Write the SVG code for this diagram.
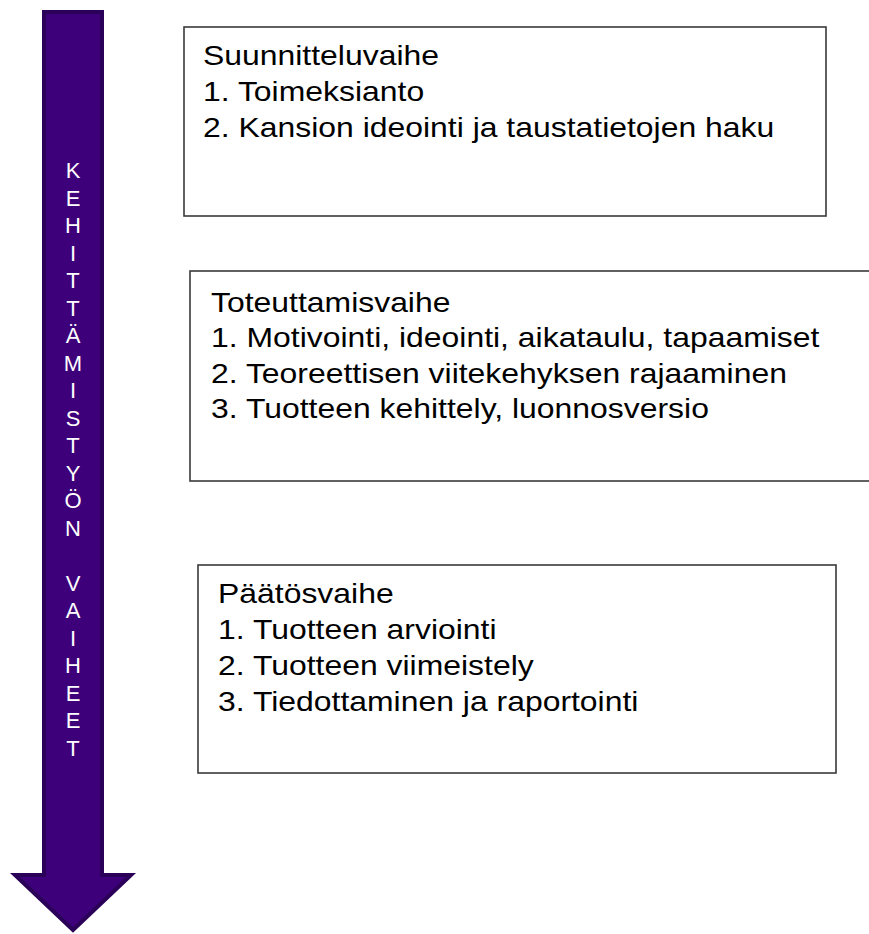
<svg xmlns="http://www.w3.org/2000/svg" width="869" height="934" viewBox="0 0 869 934">
<style>
.box{fill:#fff;stroke:#3a3a3a;stroke-width:1.6}
.t{font-family:"Liberation Sans",Arial,sans-serif;font-size:28.5px;fill:#000}
.v{font-family:"Liberation Sans",Arial,sans-serif;font-size:22px;fill:#fff;text-anchor:middle}
</style>
<rect width="869" height="934" fill="#fff"/>
<g id="arrow">
<polygon points="44,12 102,12 102,875 131,875 73,930 15,875 44,875" fill="#3D007A" stroke="#2B0058" stroke-width="4" stroke-linejoin="miter"/>
<text class="v">
<tspan x="73" y="178">K</tspan><tspan x="73" y="205.5">E</tspan><tspan x="73" y="233">H</tspan><tspan x="73" y="260.5">I</tspan><tspan x="73" y="288">T</tspan><tspan x="73" y="315.5">T</tspan><tspan x="73" y="343">Ä</tspan><tspan x="73" y="370.5">M</tspan><tspan x="73" y="398">I</tspan><tspan x="73" y="425.5">S</tspan><tspan x="73" y="453">T</tspan><tspan x="73" y="480.5">Y</tspan><tspan x="73" y="508">Ö</tspan><tspan x="73" y="535.5">N</tspan><tspan x="73" y="590.5">V</tspan><tspan x="73" y="618">A</tspan><tspan x="73" y="645.5">I</tspan><tspan x="73" y="673">H</tspan><tspan x="73" y="700.5">E</tspan><tspan x="73" y="728">E</tspan><tspan x="73" y="755.5">T</tspan>
</text>
</g>
<g id="suunnitteluvaihe">
<rect class="box" x="184" y="27" width="642" height="189"/>
<text class="t" transform="translate(203 0) scale(1.12 1)"><tspan x="0" y="65">Suunnitteluvaihe</tspan><tspan x="0" y="101">1. Toimeksianto</tspan><tspan x="0" y="137">2. Kansion ideointi ja taustatietojen haku</tspan></text>
</g>
<g id="toteuttamisvaihe">
<rect class="box" x="190" y="271" width="690" height="210"/>
<text class="t" transform="translate(211 0) scale(1.12 1)"><tspan x="0" y="312">Toteuttamisvaihe</tspan><tspan x="0" y="347.5">1. Motivointi, ideointi, aikataulu, tapaamiset</tspan><tspan x="0" y="383">2. Teoreettisen viitekehyksen rajaaminen</tspan><tspan x="0" y="418.5">3. Tuotteen kehittely, luonnosversio</tspan></text>
</g>
<g id="paatosvaihe">
<rect class="box" x="198" y="565" width="638" height="208"/>
<text class="t" transform="translate(218 0) scale(1.12 1)"><tspan x="0" y="603">Päätösvaihe</tspan><tspan x="0" y="639">1. Tuotteen arviointi</tspan><tspan x="0" y="675">2. Tuotteen viimeistely</tspan><tspan x="0" y="711">3. Tiedottaminen ja raportointi</tspan></text>
</g>
<g id="connectors"/>
</svg>
